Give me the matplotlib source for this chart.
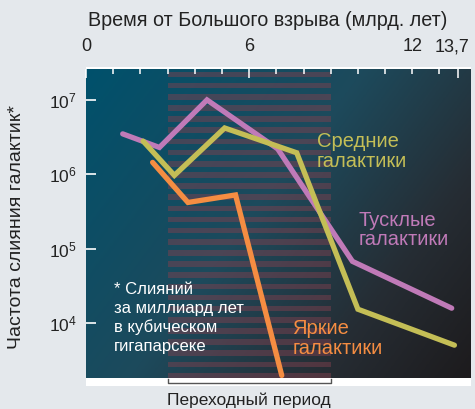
import numpy as np
import matplotlib
matplotlib.use("Agg")
import matplotlib.pyplot as plt
import matplotlib.transforms as mtrans
from matplotlib.colors import LinearSegmentedColormap
from matplotlib.patches import Rectangle

plt.rcParams['font.family'] = ['Liberation Sans', 'DejaVu Sans']
plt.rcParams['mathtext.fontset'] = 'custom'
plt.rcParams['mathtext.rm'] = 'Liberation Sans'

# time since big bang (Gyr) and merger rate
faint_x = [1.35, 2.7, 4.45, 7.05, 9.8, 13.45]
faint_y = [3.5e6, 2.3e6, 1.0e7, 2.2e6, 6.8e4, 1.6e4]
mid_x = [2.1, 3.25, 5.1, 7.75, 10.0, 13.55]
mid_y = [2.8e6, 9.7e5, 4.2e6, 1.95e6, 1.55e4, 5.1e3]
bright_x = [2.45, 3.75, 5.5, 7.2]
bright_y = [1.45e6, 4.2e5, 5.3e5, 2.0e3]

transition = (3, 9)
top_ticks = [0, 6, 12, 13.7]
top_labels = ["0", "6", "12", "13,7"]
minor_ticks = [1, 2, 3, 4, 5, 7, 8, 9, 10, 11, 13]
y_ticks = [1e4, 1e5, 1e6, 1e7]

c_faint = "#c07ab8"
c_mid = "#c4be56"
c_bright = "#f58d42"

W, H = 475, 409
fig = plt.figure(figsize=(W / 100, H / 100), dpi=100, facecolor="#e4e8ec")

x0, x1, y0, y1 = 86, 471, 69, 378.5
rect = [x0 / W, 1 - y1 / H, (x1 - x0) / W, (y1 - y0) / H]

# white frame behind plot
fig.patches.append(Rectangle((x0 / W, 1 - 386 / H), (x1 - x0) / W, (386 - 67) / H,
                             transform=fig.transFigure, facecolor="white",
                             edgecolor="none", zorder=0))

# gradient background
bg = fig.add_axes(rect, zorder=1)
u = np.linspace(0, 1, 300)
v = np.linspace(0, 1, 300)
U, V = np.meshgrid(u, v)
T = 0.62 * U + 0.38 * V
cmap = LinearSegmentedColormap.from_list(
    "bg", [(0, "#00516c"), (0.45, "#1d4a5c"), (0.75, "#262d34"), (1, "#1d1b1d")])
bg.imshow(T, cmap=cmap, aspect="auto", extent=[0, 1, 0, 1], origin="upper",
          vmin=0, vmax=1)
bg.set_axis_off()

ax = fig.add_axes(rect, zorder=2)
ax.set_facecolor("none")
ax.set_yscale("log")
ax.set_xlim(0, 14.16)
ax.set_ylim(1.82e3, 2.6e7)

# stripes of transition period
blend = mtrans.blended_transform_factory(ax.transData, ax.transAxes)
period = 11.15 / (y1 - y0)
thick = 5.6 / (y1 - y0)
top = 1 - 2.7 / (y1 - y0)
k = 0
while top - k * period - thick > -0.01:
    ys = top - k * period - thick
    ax.add_patch(Rectangle((transition[0], max(ys, 0)), transition[1] - transition[0],
                           thick - max(0 - ys, 0), transform=blend,
                           facecolor="#80404e", alpha=0.48, edgecolor="none", zorder=1))
    k += 1

lw = 3.8
for xs, ys, c in [(faint_x, faint_y, c_faint), (mid_x, mid_y, c_mid),
                  (bright_x, bright_y, c_bright)]:
    ax.plot(xs, ys, color=c, lw=lw, solid_capstyle="round",
            solid_joinstyle="miter", zorder=3)

for s in ax.spines.values():
    s.set_visible(False)

ax.xaxis.tick_top()
ax.set_xticks(top_ticks)
ax.set_xticklabels(top_labels)
ax.set_xticks(minor_ticks, minor=True)
ax.tick_params(axis="x", which="major", direction="in", length=6.5, width=1.1,
               color="white", pad=10, labelsize=13, labelcolor="#222222")
ax.tick_params(axis="x", which="minor", direction="in", length=3.8, width=1.1,
               color="white")
ax.xaxis.get_major_ticks()[2].tick2line.set_markersize(3.8)
lbl = ax.get_xticklabels()[-1]
lbl.set_transform(lbl.get_transform() +
                  mtrans.ScaledTranslation(-6 / 100, 0, fig.dpi_scale_trans))

ax.set_yticks(y_ticks)
ax.yaxis.set_minor_locator(matplotlib.ticker.NullLocator())
ax.tick_params(axis="y", which="major", direction="in", length=7.2, width=1.2,
               color="white", pad=6.5, labelsize=12.5, labelcolor="#222222")

# labels
ax.text(0.599, 0.733, "Средние\nгалактики", color=c_mid, fontsize=14.5,
        transform=ax.transAxes, va="center", ha="left", linespacing=1.05)
ax.text(0.708, 0.480, "Тусклые\nгалактики", color=c_faint, fontsize=14.5,
        transform=ax.transAxes, va="center", ha="left", linespacing=1.05)
ax.text(0.536, 0.129, "Яркие\nгалактики", color=c_bright, fontsize=14.5,
        transform=ax.transAxes, va="center", ha="left", linespacing=1.05)
ax.text(0.073, 0.195, "* Слияний\nза миллиард лет\nв кубическом\nгигапарсеке",
        color="white", fontsize=12, transform=ax.transAxes, va="center",
        ha="left", linespacing=1.3)

# transition bracket
by0 = -0.5 / (y1 - y0)
by1 = -4.2 / (y1 - y0)
ax.plot([transition[0], transition[0], transition[1], transition[1]],
        [by0, by1, by1, by0], transform=blend, color="#555555", lw=1,
        clip_on=False, zorder=3)
ax.text(np.mean(transition), (y1 - 400) / (y1 - y0), "Переходный период",
        transform=blend, ha="center", va="center", fontsize=12.5, color="#222222")

fig.text(268 / W, 1 - 20 / H, "Время от Большого взрыва (млрд. лет)",
         ha="center", va="center", fontsize=14.2, color="#222222")
fig.text(17 / W, 1 - 227 / H, "Частота слияния галактик*", rotation=90,
         ha="center", va="center", fontsize=14, color="#222222")

fig.savefig("out.png", dpi=100, facecolor=fig.get_facecolor())
